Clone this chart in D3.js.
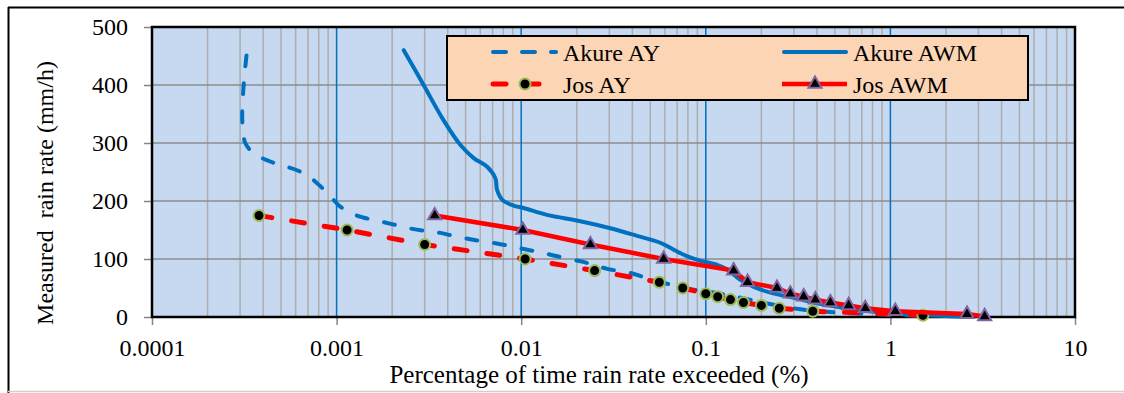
<!DOCTYPE html>
<html><head><meta charset="utf-8">
<script src="https://cdn.jsdelivr.net/npm/d3@7"></script>
<style>
html,body{margin:0;padding:0;background:#fff;}
svg text{font-family:"Liberation Serif","Times New Roman",serif;fill:#000;}
</style></head>
<body><svg id="c" width="1124" height="393"></svg>
<script>
// ---------- data ----------
const xTicks = [0.0001, 0.001, 0.01, 0.1, 1, 10];
const xTickLabels = ["0.0001", "0.001", "0.01", "0.1", "1", "10"];
const yTicks = [0, 100, 200, 300, 400, 500];
const seriesNames = ["Akure AY", "Akure AWM", "Jos AY", "Jos AWM"];

const akureAYx = [0.000325,0.000314,0.000308,0.000312,0.00032,0.000356,0.00043,0.00051,0.00061,0.00071,0.00082,0.00093,0.00105,0.00124,0.0015,0.00177,0.00213,0.00257,0.0031,0.00365,0.0044,0.0053,0.0063,0.0076,0.0091,0.0108,0.013,0.015,0.0189,0.0217,0.0252,0.0292,0.039,0.048,0.064,0.086,0.106,0.14,0.197,0.243,0.35,0.5,0.8,1.5];
const akureAYy = [451,402,345,320,300,282,269,261,253,242,225,207,190,177,169,164,158,152,148,145,139,134,130,126,121,116,111,106,99,95,89,83,76,67,56,47,43,36,26,20,12,8,5,2];

const akureAWMx = [0.00231,0.00296,0.0038,0.0047,0.00553,0.00654,0.00725,0.0074,0.0079,0.0091,0.0103,0.0138,0.0209,0.0304,0.0424,0.0567,0.067,0.079,0.0934,0.115,0.131,0.154,0.182,0.224,0.3,0.46,0.68,1.03,2.1,2.6];
const akureAWMy = [460,400,339,296,274,259,239,219,202,192,188,176,165,153,140,128,116,105,97,90,82,64,52,42,33,20,12,6,1.5,1];

const josAYx = [0.00038,0.00114,0.003,0.0105,0.025,0.056,0.075,0.1,0.116,0.136,0.16,0.2,0.25,0.38,1.5];
const josAYy = [175,150,125,100,80,60,50,40,35,30,25,20,15,10,3];

const josAWMx = [0.0034,0.0102,0.0237,0.0591,0.1415,0.1685,0.243,0.287,0.339,0.392,0.473,0.594,0.731,1.063,2.6,3.24];
const josAWMy = [175,150,125,100,80,60,50,40,35,30,25,20,15,10,5,1];

// ---------- layout ----------
const L = 152, R = 1075, T = 27, B = 317;
const blue = "#0070C0", red = "#FF0000";
const svg = d3.select("#c");

const x = d3.scaleLog().domain([0.0001, 10]).range([L, R]);
const y = d3.scaleLinear().domain([0, 500]).range([B, T]);

// outer frame
svg.append("line").attr("x1",8).attr("x2",1124).attr("y1",7.5).attr("y2",7.5).attr("stroke","#000").attr("stroke-width",2);
svg.append("line").attr("x1",8.5).attr("x2",8.5).attr("y1",7).attr("y2",393).attr("stroke","#000").attr("stroke-width",2);
svg.append("line").attr("x1",8).attr("x2",1124).attr("y1",391.5).attr("y2",391.5).attr("stroke","#d0d0d0").attr("stroke-width",1.5);

// plot background
svg.append("rect").attr("x",L).attr("y",T).attr("width",R-L).attr("height",B-T).attr("fill","#C6D9F0");

// minor vertical grid
const minor = [];
for (let d = -4; d < 1; d++) for (let m = 2; m <= 9; m++) minor.push(m * Math.pow(10, d));
svg.append("g").selectAll("line").data(minor).join("line")
  .attr("x1", d => x(d)).attr("x2", d => x(d)).attr("y1", T).attr("y2", B)
  .attr("stroke", "#ADADAD").attr("stroke-width", 1.5);
// horizontal grid
svg.append("g").selectAll("line").data(yTicks.filter(v => v > 0 && v < 500)).join("line")
  .attr("x1", L).attr("x2", R).attr("y1", d => y(d)).attr("y2", d => y(d))
  .attr("stroke", "#8C8C8C").attr("stroke-width", 1.5);
// major vertical grid (blue)
svg.append("g").selectAll("line").data(xTicks.slice(1, -1)).join("line")
  .attr("x1", d => x(d)).attr("x2", d => x(d)).attr("y1", T).attr("y2", B)
  .attr("stroke", blue).attr("stroke-width", 1.5);

// axes
const yAxis = d3.axisLeft(y).tickValues(yTicks).tickSize(8).tickPadding(16).tickFormat(d3.format("d"));
const gy = svg.append("g").attr("transform", `translate(${L},0)`).call(yAxis);
gy.select(".domain").remove();
gy.selectAll(".tick line").attr("stroke", "#868686").attr("stroke-width", 1.5);
gy.selectAll("text").attr("font-size", 24).attr("font-family", "Liberation Serif").attr("dy", "0.33em");

const xAxis = d3.axisBottom(x).tickValues(xTicks).tickSize(8).tickPadding(14).tickFormat((d, i) => xTickLabels[i]);
const gx = svg.append("g").attr("transform", `translate(0,${B})`).call(xAxis);
gx.select(".domain").remove();
gx.selectAll(".tick line").attr("stroke", "#868686").attr("stroke-width", 1.5);
gx.selectAll("text").attr("font-size", 24).attr("font-family", "Liberation Serif");

// plot border
svg.append("rect").attr("x",L).attr("y",T).attr("width",R-L).attr("height",B-T)
  .attr("fill","none").attr("stroke","#000").attr("stroke-width",2.5);

// axis titles
svg.append("text").attr("x", 599).attr("y", 383).attr("text-anchor", "middle")
  .attr("font-size", 25).text("Percentage of time rain rate exceeded (%)");
svg.append("text").attr("transform", "translate(53,193) rotate(-90)").attr("text-anchor", "middle")
  .attr("font-size", 24).style("white-space", "pre").text("Measured  rain rate (mm/h)");

// series
const zip = (xs, ys) => xs.map((v, i) => [v, ys[i]]);
const akAY = zip(akureAYx, akureAYy), akAWM = zip(akureAWMx, akureAWMy);
const jAY = zip(josAYx, josAYy), jAWM = zip(josAWMx, josAWMy);

const smooth = d3.line().x(d => x(d[0])).y(d => y(d[1])).curve(d3.curveCatmullRom.alpha(0.5));
const straight = d3.line().x(d => x(d[0])).y(d => y(d[1]));

const plot = svg.append("g");
plot.append("path").attr("d", smooth(akAY)).attr("fill","none").attr("stroke",blue)
  .attr("stroke-width",4).attr("stroke-dasharray","11,17").attr("stroke-linecap","round");
plot.append("path").attr("d", smooth(akAWM)).attr("fill","none").attr("stroke",blue)
  .attr("stroke-width",4).attr("stroke-linecap","round");
plot.append("path").attr("d", straight(jAY)).attr("fill","none").attr("stroke",red)
  .attr("stroke-width",5).attr("stroke-dasharray","13,20").attr("stroke-linecap","round");
plot.append("g").selectAll("circle").data(jAY).join("circle")
  .attr("cx", d => x(d[0])).attr("cy", d => y(d[1])).attr("r", 5.5)
  .attr("fill","#000").attr("stroke","#9BBB59").attr("stroke-width",2);
plot.append("path").attr("d", straight(jAWM)).attr("fill","none").attr("stroke",red)
  .attr("stroke-width",4.5);
const tri = d3.symbol().type(d3.symbolTriangle).size(75);
plot.append("g").selectAll("path").data(jAWM).join("path")
  .attr("d", tri).attr("transform", d => `translate(${x(d[0])},${y(d[1])})`)
  .attr("fill","#000").attr("stroke","#8064A2").attr("stroke-width",2);

// legend
const lg = svg.append("g");
lg.append("rect").attr("x",447).attr("y",36).attr("width",581).attr("height",64)
  .attr("fill","#FCD5B5").attr("stroke","#000").attr("stroke-width",2);
const legendItems = [
  {name: seriesNames[0], lx: 491, ly: 52},
  {name: seriesNames[1], lx: 782, ly: 52},
  {name: seriesNames[2], lx: 491, ly: 84},
  {name: seriesNames[3], lx: 782, ly: 84}
];
// Akure AY
lg.append("line").attr("x1",493).attr("x2",556).attr("y1",52).attr("y2",52).attr("stroke",blue)
  .attr("stroke-width",4).attr("stroke-dasharray","13,16").attr("stroke-linecap","round");
// Akure AWM
lg.append("line").attr("x1",784).attr("x2",846).attr("y1",52).attr("y2",52).attr("stroke",blue)
  .attr("stroke-width",4).attr("stroke-linecap","round");
// Jos AY
lg.append("line").attr("x1",493).attr("x2",556).attr("y1",84).attr("y2",84).attr("stroke",red)
  .attr("stroke-width",5).attr("stroke-dasharray","13,20").attr("stroke-linecap","round");
lg.append("circle").attr("cx",525).attr("cy",84).attr("r",5.5).attr("fill","#000").attr("stroke","#9BBB59").attr("stroke-width",2);
// Jos AWM
lg.append("line").attr("x1",782).attr("x2",847).attr("y1",84).attr("y2",84).attr("stroke",red).attr("stroke-width",4.5);
lg.append("path").attr("d", tri).attr("transform","translate(815,84)").attr("fill","#000").attr("stroke","#8064A2").attr("stroke-width",2);
lg.selectAll("text.lt").data(legendItems).join("text").attr("class","lt")
  .attr("x", d => d.lx === 491 ? 563 : 853).attr("y", d => d.ly + 8.5)
  .attr("font-size", 24).text(d => d.name);
</script></body></html>
